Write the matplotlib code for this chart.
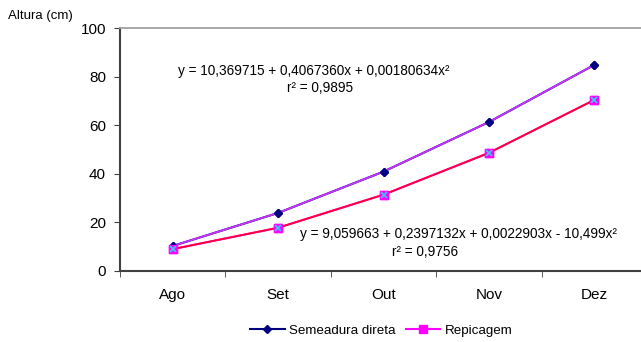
import matplotlib.pyplot as plt
import numpy as np

plt.rcParams['font.family'] = ['Liberation Sans', 'DejaVu Sans']

months = ['Ago', 'Set', 'Out', 'Nov', 'Dez']
semeadura = [10.3, 23.9, 40.9, 61.3, 84.8]
repicagem = [9.0, 17.8, 31.4, 48.6, 70.4]
eq_sem = 'y = 10,369715 + 0,4067360x + 0,00180634x²'
r2_sem = 'r² = 0,9895'
eq_rep = 'y = 9,059663 + 0,2397132x + 0,0022903x - 10,499x²'
r2_rep = 'r² = 0,9756'

fig = plt.figure(figsize=(6.41, 3.42), dpi=100)
ax = fig.add_axes([120/641, 1-271/342, 527/641, 243/342])

x = np.arange(len(months))

# data lines (legend) + trendlines on top
ax.plot(x, semeadura, color='#000080', lw=1.5, marker='D', ms=4.5,
        label='Semeadura direta', zorder=3)
ax.plot(x, repicagem, color='#FF00FF', lw=1.5, marker='s', ms=6,
        label='Repicagem', zorder=3)
ax.plot(x, semeadura, color='#CC33FF', lw=1.3, zorder=4)
ax.plot(x, repicagem, color='#FF0033', lw=1.3, zorder=4)
ax.plot(x, semeadura, ls='none', marker='D', ms=4.5, color='#000080', zorder=5)
ax.plot(x, repicagem, ls='none', marker='s', ms=6, color='#FF00FF', zorder=5)
ax.plot(x, repicagem, ls='none', marker='x', ms=5, mew=1.2, color='#33CCFF', zorder=6)

ax.set_xlim(-0.5, len(months) - 0.5)
ax.set_ylim(0, 100)
ax.set_yticks(range(0, 101, 20))
ax.set_xticks(x)
ax.set_xticklabels(months)
ax.set_xticks(np.arange(-0.5, len(months), 1), minor=True)
ax.tick_params(axis='x', which='major', length=0, pad=12, labelsize=11)
ax.tick_params(axis='x', which='minor', length=4, direction='out', color='#404040')
ax.tick_params(axis='y', length=4, direction='out', color='#404040', labelsize=11, pad=6)

for s in ['left', 'bottom']:
    ax.spines[s].set_color('#404040')
    ax.spines[s].set_linewidth(1.5)
ax.spines['top'].set_color('#A0A0A0')
ax.spines['top'].set_linewidth(1.3)
ax.spines['right'].set_visible(False)

fig.text(8/641, 1-16/342, 'Altura (cm)', fontsize=9.5, va='center', ha='left')

fig.text(178/641, 1-71/342, eq_sem, fontsize=9.8, va='center', ha='left')
fig.text(320/641, 1-88/342, r2_sem, fontsize=9.8, va='center', ha='center')
fig.text(300/641, 1-234/342, eq_rep, fontsize=9.8, va='center', ha='left')
fig.text(425/641, 1-252/342, r2_rep, fontsize=9.8, va='center', ha='center')

fig.legend(loc='center', bbox_to_anchor=(381/641, 1-331/342), ncol=2,
           frameon=False, fontsize=9.6, handlelength=2.6, columnspacing=0.8,
           handletextpad=0.3)

fig.savefig('out.png', dpi=100)
